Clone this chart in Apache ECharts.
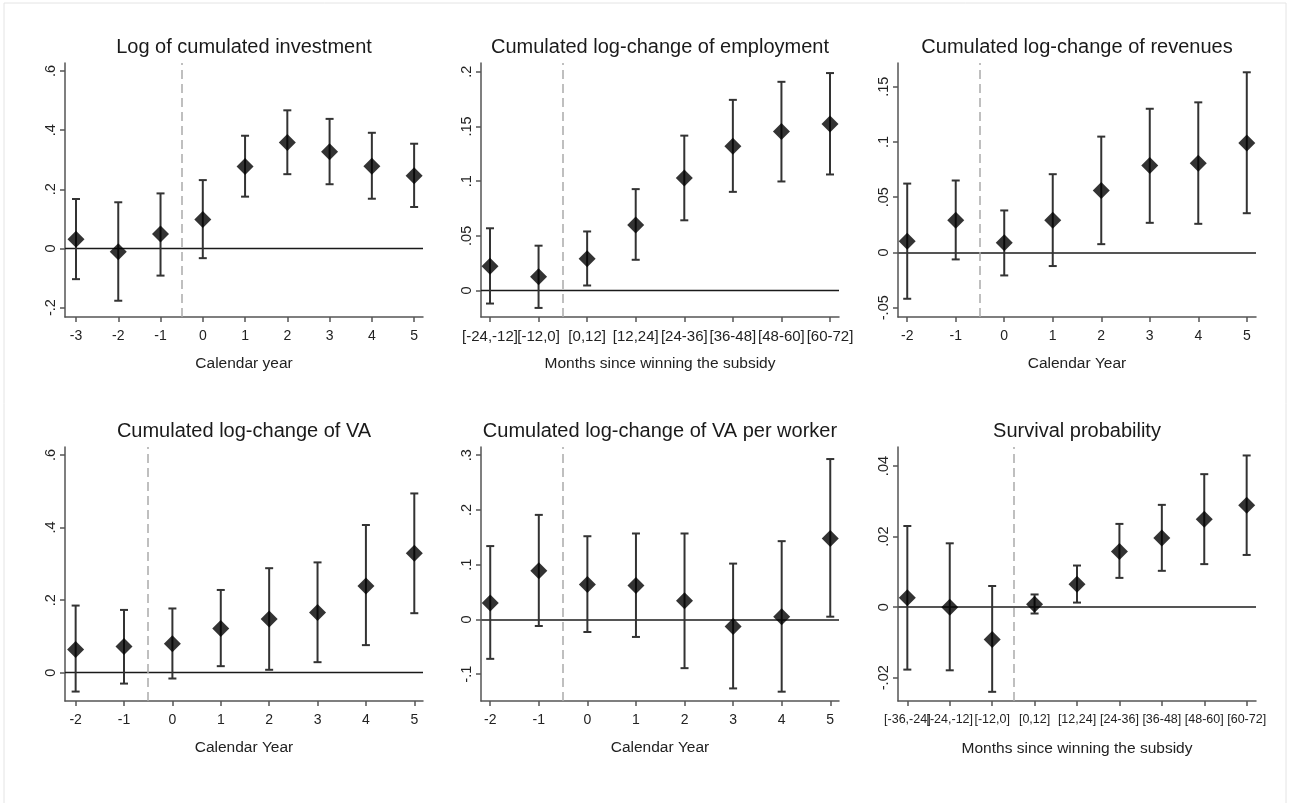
<!DOCTYPE html>
<html>
<head>
<meta charset="utf-8">
<script src="https://cdn.jsdelivr.net/npm/echarts@6/dist/echarts.min.js"></script>
<style>
  html, body { margin: 0; padding: 0; background: #fff; }
  #chart { width: 1290px; height: 803px; }
</style>
</head>
<body>
<div id="chart"></div>
<script>
// ---- Panel 1: Log of cumulated investment ----
const invTitle = 'Log of cumulated investment';
const invXName = 'Calendar year';
const invCats = ['-3', '-2', '-1', '0', '1', '2', '3', '4', '5'];
const invEst = [0.031, -0.011, 0.049, 0.098, 0.277, 0.358, 0.327, 0.278, 0.246];
const invHi  = [0.167, 0.156, 0.186, 0.231, 0.381, 0.467, 0.438, 0.391, 0.354];
const invLo  = [-0.104, -0.177, -0.092, -0.033, 0.175, 0.251, 0.217, 0.168, 0.140];
const invYTicks = [-0.2, 0, 0.2, 0.4, 0.6];

// ---- Panel 2: Cumulated log-change of employment ----
const empTitle = 'Cumulated log-change of employment';
const empXName = 'Months since winning the subsidy';
const empCats = ['[-24,-12]', '[-12,0]', '[0,12]', '[12,24]', '[24-36]', '[36-48]', '[48-60]', '[60-72]'];
const empEst = [0.0223, 0.0125, 0.0290, 0.0600, 0.1028, 0.1318, 0.1453, 0.1523];
const empHi  = [0.0569, 0.0410, 0.0540, 0.0927, 0.1416, 0.1743, 0.1908, 0.1988];
const empLo  = [-0.0119, -0.0159, 0.0046, 0.0281, 0.0642, 0.0902, 0.0997, 0.1061];
const empYTicks = [0, 0.05, 0.1, 0.15, 0.2];

// ---- Panel 3: Cumulated log-change of revenues ----
const revTitle = 'Cumulated log-change of revenues';
const revXName = 'Calendar Year';
const revCats = ['-2', '-1', '0', '1', '2', '3', '4', '5'];
const revEst = [0.0102, 0.0292, 0.0087, 0.0292, 0.0560, 0.0786, 0.0807, 0.0991];
const revHi  = [0.0623, 0.0651, 0.0380, 0.0708, 0.1048, 0.1300, 0.1358, 0.1630];
const revLo  = [-0.0419, -0.0063, -0.0208, -0.0123, 0.0075, 0.0268, 0.0259, 0.0355];
const revYTicks = [-0.05, 0, 0.05, 0.1, 0.15];

// ---- Panel 4: Cumulated log-change of VA ----
const vaTitle = 'Cumulated log-change of VA';
const vaXName = 'Calendar Year';
const vaCats = ['-2', '-1', '0', '1', '2', '3', '4', '5'];
const vaEst = [0.064, 0.072, 0.080, 0.122, 0.148, 0.166, 0.239, 0.329];
const vaHi  = [0.185, 0.173, 0.177, 0.228, 0.288, 0.304, 0.407, 0.494];
const vaLo  = [-0.052, -0.030, -0.016, 0.018, 0.008, 0.029, 0.076, 0.164];
const vaYTicks = [0, 0.2, 0.4, 0.6];

// ---- Panel 5: Cumulated log-change of VA per worker ----
const vpwTitle = 'Cumulated log-change of VA per worker';
const vpwXName = 'Calendar Year';
const vpwCats = ['-2', '-1', '0', '1', '2', '3', '4', '5'];
const vpwEst = [0.030, 0.089, 0.064, 0.062, 0.034, -0.013, 0.005, 0.148];
const vpwHi  = [0.134, 0.191, 0.152, 0.157, 0.157, 0.102, 0.143, 0.293];
const vpwLo  = [-0.072, -0.012, -0.023, -0.032, -0.089, -0.126, -0.132, 0.005];
const vpwYTicks = [-0.1, 0, 0.1, 0.2, 0.3];

// ---- Panel 6: Survival probability ----
const survTitle = 'Survival probability';
const survXName = 'Months since winning the subsidy';
const survCats = ['[-36,-24]', '[-24,-12]', '[-12,0]', '[0,12]', '[12,24]', '[24-36]', '[36-48]', '[48-60]', '[60-72]'];
const survEst = [0.0027, 0.0000, -0.0092, 0.0008, 0.0065, 0.0158, 0.0196, 0.0249, 0.0289];
const survHi  = [0.0230, 0.0181, 0.0060, 0.0036, 0.0118, 0.0236, 0.0290, 0.0377, 0.0430];
const survLo  = [-0.0177, -0.0179, -0.0240, -0.0018, 0.0013, 0.0083, 0.0103, 0.0122, 0.0148];
const survYTicks = [-0.02, 0, 0.02, 0.04];

const FONT = '"Liberation Sans", Arial, Helvetica, sans-serif';
const COLS = [65, 481, 898];
const ROWS = [63, 447];
const GW = 358, GH = 254;

// Each panel: data, x range (in category-index units, 0 = first category),
// y range, the position of the treatment cut, and a few style details.
const panels = [
  { title: invTitle, xName: invXName, cats: invCats, est: invEst, hi: invHi, lo: invLo, yTicks: invYTicks,
    col: 0, row: 0, xMin: -0.26, xMax: 8.21, yMin: -0.232, yMax: 0.627, cut: 2.5,
    xFont: 14, zeroColor: '#1a1a1a', zeroWidth: 1.3, nameGap: 39 },
  { title: empTitle, xName: empXName, cats: empCats, est: empEst, hi: empHi, lo: empLo, yTicks: empYTicks,
    col: 1, row: 0, xMin: -0.185, xMax: 7.185, yMin: -0.0242, yMax: 0.208, cut: 1.5,
    xFont: 15, zeroColor: '#1a1a1a', zeroWidth: 1.3, nameGap: 39 },
  { title: revTitle, xName: revXName, cats: revCats, est: revEst, hi: revHi, lo: revLo, yTicks: revYTicks,
    col: 2, row: 0, xMin: -0.19, xMax: 7.19, yMin: -0.0584, yMax: 0.1714, cut: 1.5,
    xFont: 14, zeroColor: '#555', zeroWidth: 2, nameGap: 39 },
  { title: vaTitle, xName: vaXName, cats: vaCats, est: vaEst, hi: vaHi, lo: vaLo, yTicks: vaYTicks,
    col: 0, row: 1, xMin: -0.22, xMax: 7.18, yMin: -0.078, yMax: 0.622, cut: 1.5,
    xFont: 14, zeroColor: '#1a1a1a', zeroWidth: 1.3, nameGap: 39 },
  { title: vpwTitle, xName: vpwXName, cats: vpwCats, est: vpwEst, hi: vpwHi, lo: vpwLo, yTicks: vpwYTicks,
    col: 1, row: 1, xMin: -0.19, xMax: 7.18, yMin: -0.149, yMax: 0.315, cut: 1.5,
    xFont: 14, zeroColor: '#555', zeroWidth: 2, nameGap: 39 },
  { title: survTitle, xName: survXName, cats: survCats, est: survEst, hi: survHi, lo: survLo, yTicks: survYTicks,
    col: 2, row: 1, xMin: -0.22, xMax: 8.22, yMin: -0.0266, yMax: 0.0454, cut: 2.5,
    xFont: 12.5, zeroColor: '#555', zeroWidth: 2, nameGap: 40 }
];

function yLabel(v) {
  const s = String(+Number(v).toFixed(4));
  return s.replace(/^(-?)0\./, '$1.');
}

const option = {
  animation: false,
  backgroundColor: '#ffffff',
  title: [], grid: [], xAxis: [], yAxis: [], series: [],
  graphic: [{
    type: 'rect', silent: true,
    shape: { x: 4, y: 3, width: 1282, height: 820 },
    style: { fill: 'none', stroke: '#e4e4e4', lineWidth: 1 }
  }]
};

panels.forEach((p, i) => {
  const left = COLS[p.col], top = ROWS[p.row];
  option.title.push({
    text: p.title,
    left: left + GW / 2,
    top: top - 26,
    textAlign: 'center',
    padding: 0,
    textStyle: { fontFamily: FONT, fontSize: 20, fontWeight: 'normal', color: '#1a1a1a' }
  });
  option.grid.push({ left: left, top: top, width: GW, height: GH, containLabel: false });

  const idx = p.cats.map((c, k) => k);
  option.xAxis.push({
    type: 'value', gridIndex: i, min: p.xMin, max: p.xMax,
    name: p.xName, nameLocation: 'middle', nameGap: p.nameGap,
    nameTextStyle: { fontFamily: FONT, fontSize: 15.5, color: '#222' },
    axisLine: { onZero: false, lineStyle: { color: '#555', width: 1.5 } },
    axisTick: { show: true, length: 5, customValues: idx, lineStyle: { color: '#555', width: 1.5 } },
    axisLabel: { show: false },
    splitLine: { show: false }
  });
  option.yAxis.push({
    type: 'value', gridIndex: i, min: p.yMin, max: p.yMax,
    axisLine: { show: true, onZero: false, lineStyle: { color: '#555', width: 1.5 } },
    axisTick: { show: true, length: 5, customValues: p.yTicks, lineStyle: { color: '#555', width: 1.5 } },
    axisLabel: {
      customValues: p.yTicks, rotate: 90, margin: 7, fontFamily: FONT, fontSize: 14.5, color: '#222',
      showMinLabel: true, showMaxLabel: true,
      formatter: yLabel
    },
    splitLine: { show: false }
  });

  // x tick labels: every category is written under its tick, even where
  // neighbouring bracket labels touch
  option.series.push({
    type: 'custom', xAxisIndex: i, yAxisIndex: i, z: 2, silent: true, clip: false,
    data: idx.map(k => [k, p.yMin]),
    renderItem: (params, api) => {
      const pt = api.coord([api.value(0), api.value(1)]);
      return {
        type: 'text',
        style: {
          x: pt[0], y: pt[1] + 12,
          text: p.cats[params.dataIndex],
          align: 'center', verticalAlign: 'top',
          font: p.xFont + 'px ' + FONT,
          fill: '#222'
        }
      };
    }
  });

  // confidence intervals with caps
  option.series.push({
    type: 'custom', xAxisIndex: i, yAxisIndex: i, z: 3,
    data: idx.map(k => [k, p.lo[k], p.hi[k]]),
    renderItem: (params, api) => {
      const lo = api.coord([api.value(0), api.value(1)]);
      const hi = api.coord([api.value(0), api.value(2)]);
      const cw = 4;
      const st = { stroke: '#333333', lineWidth: 2 };
      return {
        type: 'group',
        children: [
          { type: 'line', shape: { x1: lo[0], y1: lo[1], x2: hi[0], y2: hi[1] }, style: st },
          { type: 'line', shape: { x1: lo[0] - cw, y1: lo[1], x2: lo[0] + cw, y2: lo[1] }, style: st },
          { type: 'line', shape: { x1: hi[0] - cw, y1: hi[1], x2: hi[0] + cw, y2: hi[1] }, style: st }
        ]
      };
    }
  });

  // point estimates, with the zero reference line and the treatment cut
  option.series.push({
    type: 'scatter', xAxisIndex: i, yAxisIndex: i, z: 4,
    symbol: 'diamond', symbolSize: [17, 17],
    itemStyle: { color: '#000' },
    data: idx.map(k => [k, p.est[k]]),
    markLine: {
      silent: true, symbol: 'none', label: { show: false }, z: 1,
      data: [
        { yAxis: 0, lineStyle: { color: p.zeroColor, width: p.zeroWidth, type: 'solid' } },
        { xAxis: p.cut, lineStyle: { color: '#aaaaaa', width: 1.5, type: [9, 5] } }
      ]
    }
  });
});

const chart = echarts.init(document.getElementById('chart'), null, { renderer: 'canvas' });
chart.setOption(option);
</script>
</body>
</html>
